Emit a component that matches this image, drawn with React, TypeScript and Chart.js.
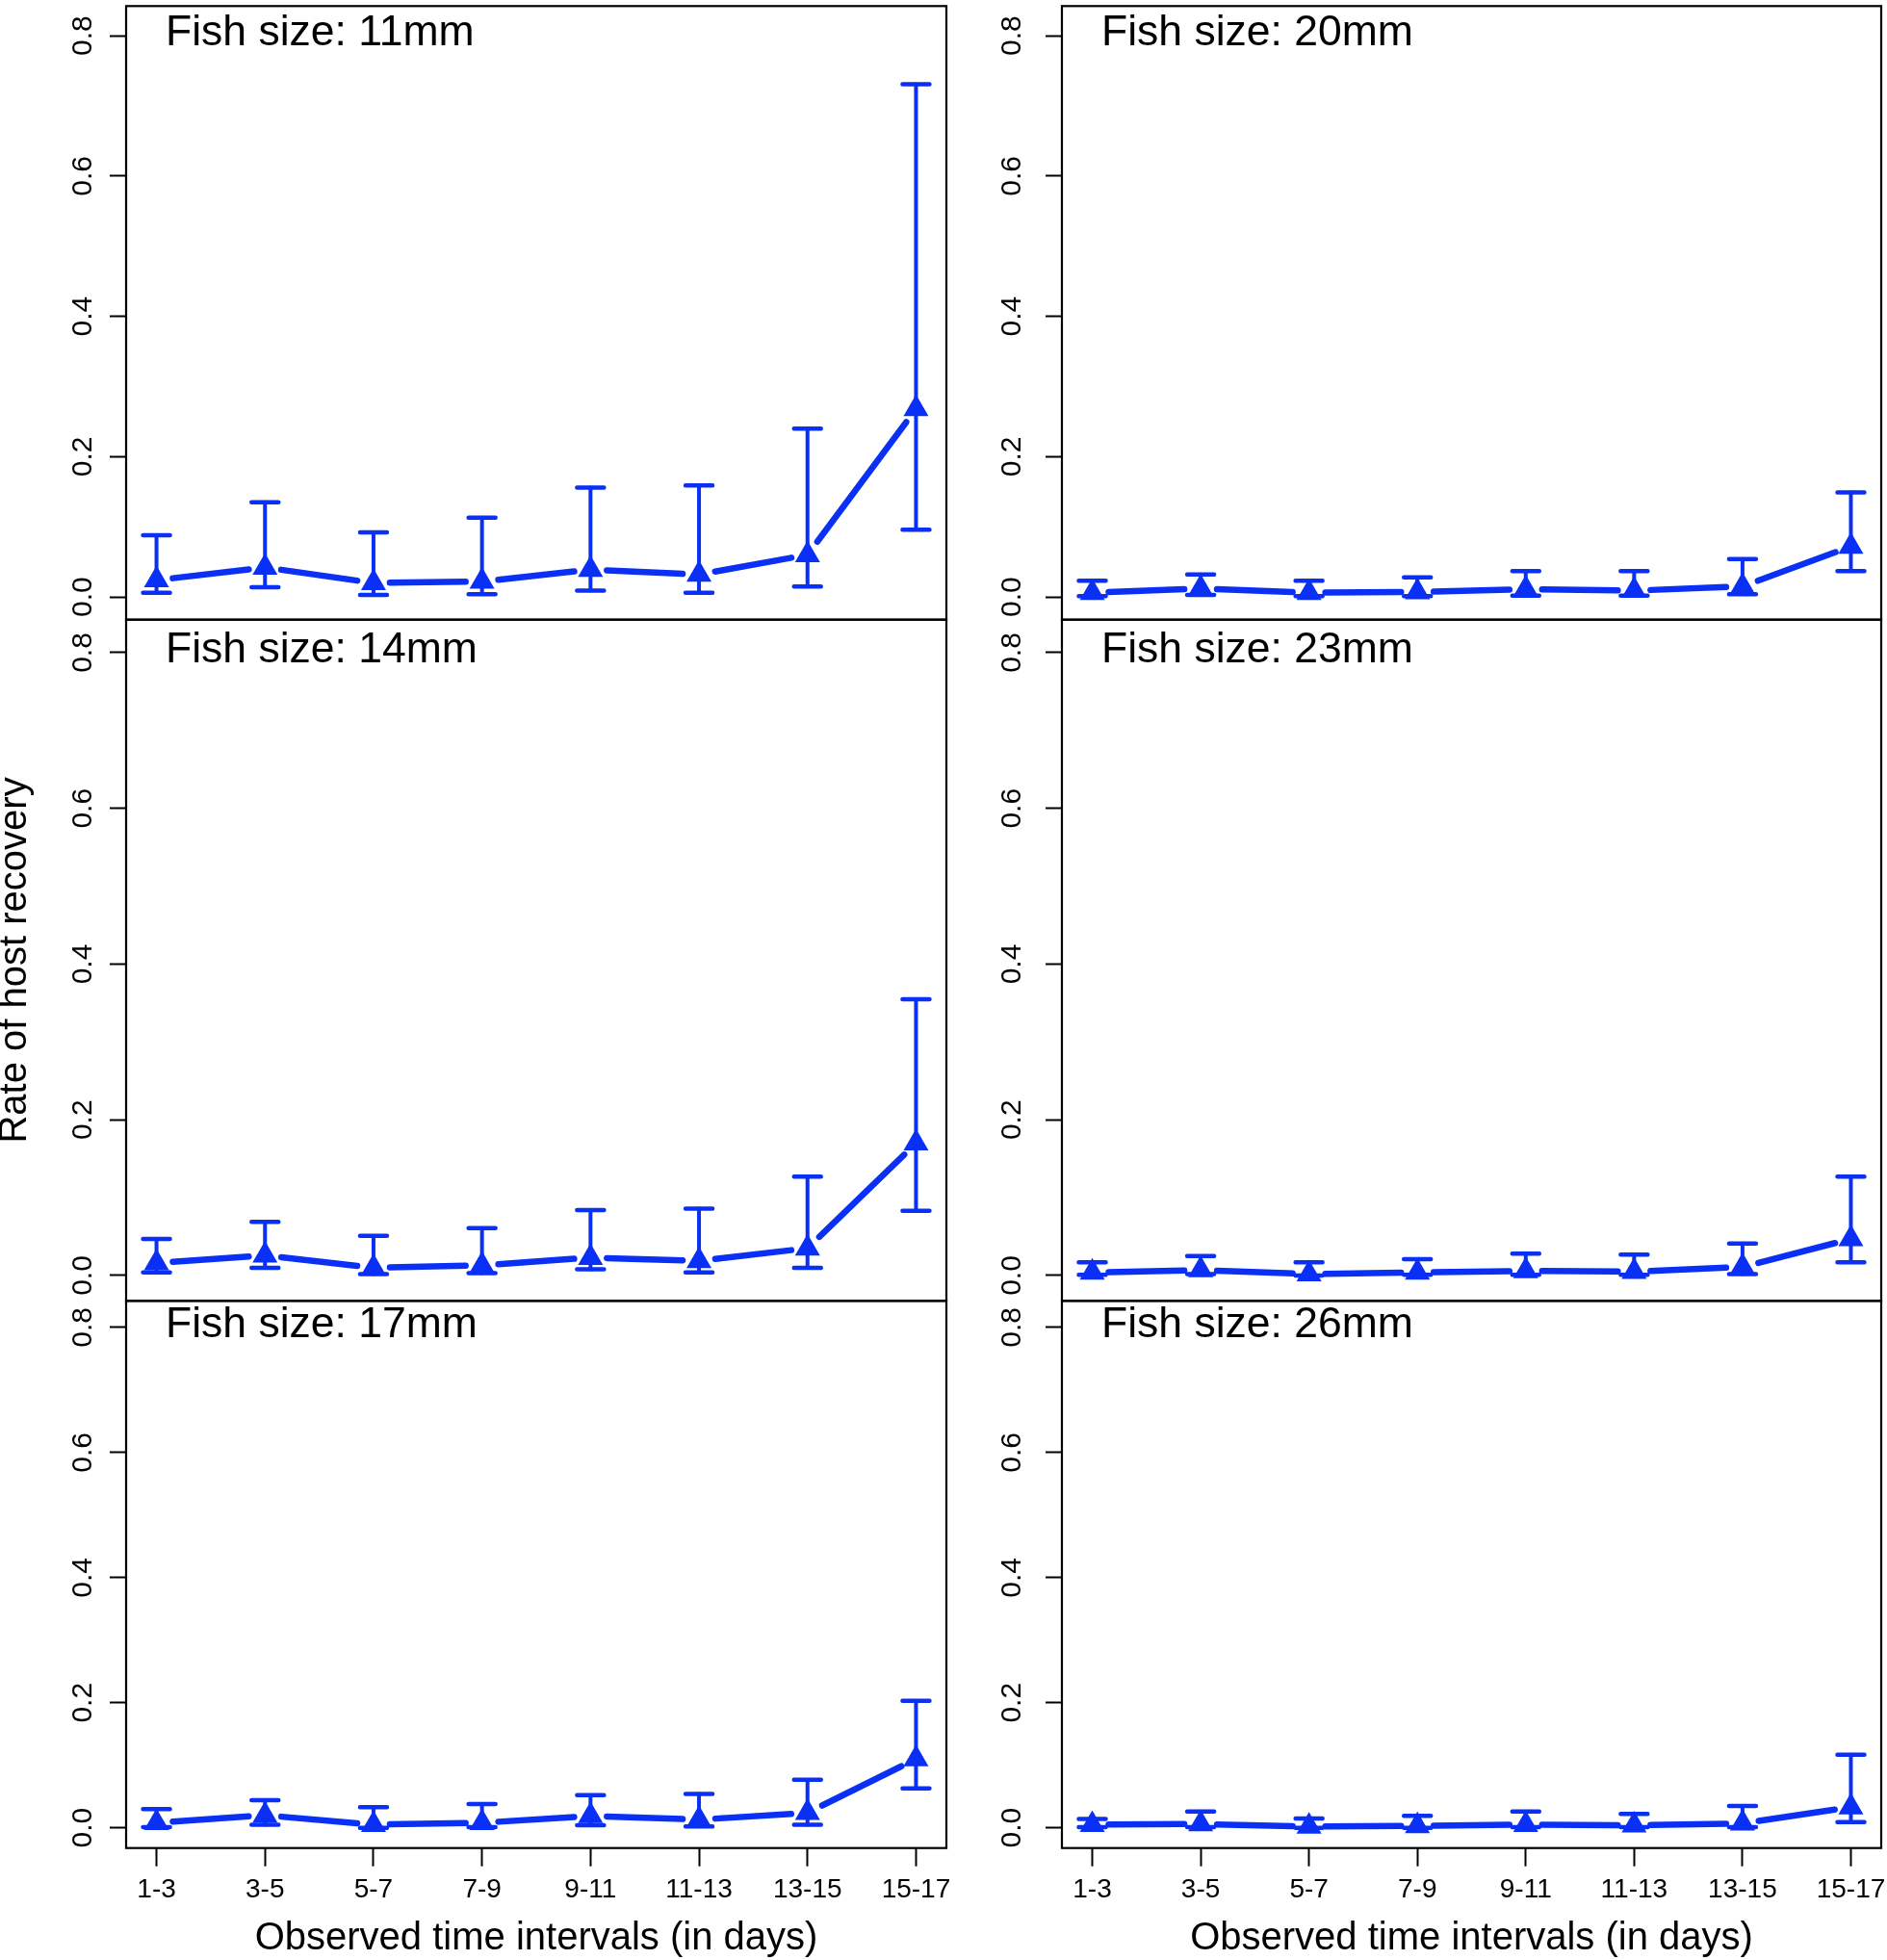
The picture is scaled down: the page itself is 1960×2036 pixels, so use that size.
import React, { useEffect, useRef } from "react";
import { Chart, registerables } from "chart.js";

Chart.register(...registerables);

// ---------------- data ----------------
const intervals = ["1-3", "3-5", "5-7", "7-9", "9-11", "11-13", "13-15", "15-17"];
const yTicks = [0, 0.2, 0.4, 0.6, 0.8];
const fishSizes = ["11mm", "14mm", "17mm", "20mm", "23mm", "26mm"];

const rate11 = [0.024, 0.042, 0.02, 0.022, 0.039, 0.032, 0.06, 0.268];
const upper11 = [0.088, 0.135, 0.092, 0.113, 0.156, 0.159, 0.24, 0.731];
const lower11 = [0.006, 0.014, 0.003, 0.004, 0.009, 0.006, 0.015, 0.096];

const rate14 = [0.016, 0.026, 0.01, 0.013, 0.023, 0.019, 0.035, 0.17];
const upper14 = [0.047, 0.069, 0.051, 0.061, 0.084, 0.086, 0.127, 0.355];
const lower14 = [0.004, 0.01, 0.002, 0.003, 0.008, 0.004, 0.01, 0.083];

const rate17 = [0.008, 0.02, 0.005, 0.008, 0.019, 0.013, 0.024, 0.11];
const upper17 = [0.03, 0.044, 0.033, 0.038, 0.052, 0.054, 0.077, 0.203];
const lower17 = [0.001, 0.005, 0.0, 0.001, 0.004, 0.002, 0.005, 0.063];

const rate20 = [0.006, 0.012, 0.006, 0.007, 0.011, 0.009, 0.015, 0.072];
const upper20 = [0.023, 0.032, 0.023, 0.028, 0.037, 0.037, 0.054, 0.149];
const lower20 = [0.001, 0.003, 0.001, 0.001, 0.002, 0.002, 0.004, 0.037];

const rate23 = [0.004, 0.007, 0.002, 0.004, 0.006, 0.005, 0.011, 0.047];
const upper23 = [0.017, 0.025, 0.017, 0.021, 0.028, 0.027, 0.041, 0.127];
const lower23 = [0.001, 0.002, 0.0, 0.001, 0.001, 0.001, 0.002, 0.017];

const rate26 = [0.005, 0.006, 0.002, 0.003, 0.005, 0.004, 0.007, 0.033];
const upper26 = [0.014, 0.026, 0.015, 0.019, 0.026, 0.022, 0.035, 0.117];
const lower26 = [0.001, 0.001, 0.0, 0.0, 0.001, 0.001, 0.001, 0.009];

const yTitle = "Rate of host recovery";
const xTitle = "Observed time intervals (in days)";

// ---------------- layout / style ----------------
const FONT = '"Liberation Sans", Arial, Helvetica, sans-serif';
const BLUE = "#0a2ff5";

const COLS = [
  { x: 0, w: 1000, axisW: 131, padRight: 17, tickPad: 6 },
  { x: 1000, w: 960, axisW: 103, padRight: 6, tickPad: 13.5 },
];
const ROWS = [
  { y: 0, h: 660, padTop: 6.3, padBottom: 16.3, xAxis: false, axisH: 0 },
  { y: 620, h: 750, padTop: 23.7, padBottom: 18.8, xAxis: false, axisH: 0 },
  { y: 1330, h: 706, padTop: 21.4, padBottom: 0, xAxis: true, axisH: 116.3 },
];

type PanelSpec = {
  label: string;
  rate: number[];
  upper: number[];
  lower: number[];
  col: number;
  row: number;
};

const PANELS: PanelSpec[] = [
  { label: "Fish size: " + fishSizes[0], rate: rate11, upper: upper11, lower: lower11, col: 0, row: 0 },
  { label: "Fish size: " + fishSizes[1], rate: rate14, upper: upper14, lower: lower14, col: 0, row: 1 },
  { label: "Fish size: " + fishSizes[2], rate: rate17, upper: upper17, lower: lower17, col: 0, row: 2 },
  { label: "Fish size: " + fishSizes[3], rate: rate20, upper: upper20, lower: lower20, col: 1, row: 0 },
  { label: "Fish size: " + fishSizes[4], rate: rate23, upper: upper23, lower: lower23, col: 1, row: 1 },
  { label: "Fish size: " + fishSizes[5], rate: rate26, upper: upper26, lower: lower26, col: 1, row: 2 },
];

function Panel({ spec }: { spec: PanelSpec }) {
  const ref = useRef<HTMLCanvasElement | null>(null);
  const col = COLS[spec.col];
  const row = ROWS[spec.row];

  useEffect(() => {
    const canvas = ref.current;
    if (!canvas) return;
    const GAP = 17;

    const deco = {
      id: "panelDeco",
      beforeDatasetsDraw(chart: any) {
        const { ctx, scales } = chart;
        const xs = scales.x;
        const ys = scales.y;
        const pts = spec.rate.map((v, i) => [xs.getPixelForValue(i + 1), ys.getPixelForValue(v)]);
        ctx.save();
        ctx.strokeStyle = BLUE;
        ctx.lineWidth = 6.5;
        ctx.lineCap = "round";
        for (let i = 0; i < pts.length - 1; i++) {
          const [x0, y0] = pts[i];
          const [x1, y1] = pts[i + 1];
          const dx = x1 - x0;
          const dy = y1 - y0;
          const len = Math.hypot(dx, dy);
          if (len <= 2 * GAP) continue;
          const ux = dx / len;
          const uy = dy / len;
          ctx.beginPath();
          ctx.moveTo(x0 + ux * GAP, y0 + uy * GAP);
          ctx.lineTo(x1 - ux * GAP, y1 - uy * GAP);
          ctx.stroke();
        }
        ctx.restore();
      },
      afterDatasetsDraw(chart: any) {
        const { ctx, scales, chartArea } = chart;
        const xs = scales.x;
        const ys = scales.y;
        ctx.save();
        // error bars
        ctx.strokeStyle = BLUE;
        ctx.lineCap = "round";
        spec.rate.forEach((_, i) => {
          const x = xs.getPixelForValue(i + 1);
          const yu = ys.getPixelForValue(spec.upper[i]);
          const yl = ys.getPixelForValue(spec.lower[i]);
          ctx.lineWidth = 4;
          ctx.beginPath();
          ctx.moveTo(x, yu);
          ctx.lineTo(x, yl);
          ctx.stroke();
          ctx.lineWidth = 4.5;
          ctx.beginPath();
          ctx.moveTo(x - 14, yu);
          ctx.lineTo(x + 14, yu);
          ctx.moveTo(x - 14, yl);
          ctx.lineTo(x + 14, yl);
          ctx.stroke();
        });
        // frame
        ctx.strokeStyle = "#000";
        ctx.lineWidth = 2.2;
        ctx.lineCap = "butt";
        ctx.strokeRect(chartArea.left, chartArea.top, chartArea.right - chartArea.left, chartArea.bottom - chartArea.top);
        // panel label
        ctx.fillStyle = "#000";
        ctx.font = "44.5px " + FONT;
        ctx.textAlign = "left";
        ctx.textBaseline = "alphabetic";
        ctx.fillText(spec.label, chartArea.left + 41, ys.getPixelForValue(0.8) + 10);
        ctx.restore();
      },
    };

    const showYTitle = spec.col === 0 && spec.row === 1;

    const chart = new Chart(canvas, {
      type: "scatter",
      data: {
        datasets: [
          {
            data: spec.rate.map((v, i) => ({ x: i + 1, y: v })),
            showLine: false,
            pointStyle: "triangle",
            pointRadius: 15,
            pointHoverRadius: 15,
            pointBackgroundColor: BLUE,
            pointBorderColor: BLUE,
            pointBorderWidth: 0,
          },
        ],
      },
      options: {
        animation: false,
        responsive: false,
        devicePixelRatio: 1,
        events: [],
        layout: {
          autoPadding: false,
          padding: { left: 0, right: col.padRight, top: row.padTop, bottom: row.padBottom },
        },
        plugins: { legend: { display: false }, tooltip: { enabled: false } },
        scales: {
          x: {
            type: "linear",
            display: row.xAxis,
            min: 0.72,
            max: 8.28,
            bounds: "data",
            afterBuildTicks: (s: any) => {
              s.ticks = intervals.map((_, i) => ({ value: i + 1 }));
            },
            afterFit: (s: any) => {
              s.height = row.axisH;
              s.paddingLeft = 0;
              s.paddingRight = 0;
              s.paddingTop = 0;
              s.paddingBottom = 0;
            },
            grid: {
              display: true,
              drawOnChartArea: false,
              drawTicks: true,
              tickLength: 19,
              tickWidth: 2,
              tickColor: "#000",
              color: "#000",
            },
            border: { display: false },
            ticks: {
              autoSkip: false,
              minRotation: 0,
              maxRotation: 0,
              padding: 8,
              color: "#000",
              font: { family: FONT, size: 28 },
              callback: (v: any) => intervals[Math.round(Number(v)) - 1] ?? "",
            },
            title: {
              display: row.xAxis,
              text: xTitle,
              color: "#000",
              font: { family: FONT, size: 40, lineHeight: 1.12 },
              padding: 0,
            },
          },
          y: {
            type: "linear",
            min: -0.0324,
            max: 0.8424,
            bounds: "data",
            afterBuildTicks: (s: any) => {
              s.ticks = yTicks.map((v) => ({ value: v }));
            },
            afterFit: (s: any) => {
              s.width = col.axisW;
              s.paddingLeft = 0;
              s.paddingRight = 0;
              s.paddingTop = 0;
              s.paddingBottom = 0;
            },
            grid: {
              display: true,
              drawOnChartArea: false,
              drawTicks: true,
              tickLength: 17,
              tickWidth: 2,
              tickColor: "#000",
              color: "#000",
            },
            border: { display: false },
            ticks: {
              autoSkip: false,
              minRotation: 90,
              maxRotation: 90,
              crossAlign: "center",
              padding: col.tickPad,
              color: "#000",
              font: { family: FONT, size: 30 },
              callback: (v: any) => Number(v).toFixed(1),
            },
            title: {
              display: showYTitle,
              text: yTitle,
              color: "#000",
              font: { family: FONT, size: 40, lineHeight: 0.8 },
              padding: 0,
            },
          },
        },
      } as any,
      plugins: [deco],
    });
    return () => chart.destroy();
  }, []);

  return (
    <canvas
      ref={ref}
      width={col.w}
      height={row.h}
      style={{ position: "absolute", left: col.x, top: row.y, width: col.w, height: row.h }}
    />
  );
}

export default function App() {
  return (
    <div
      style={{
        position: "absolute",
        left: 0,
        top: 0,
        width: 1960,
        height: 2036,
        background: "#fff",
        overflow: "hidden",
      }}
    >
      {PANELS.map((p, i) => (
        <Panel key={i} spec={p} />
      ))}
    </div>
  );
}
